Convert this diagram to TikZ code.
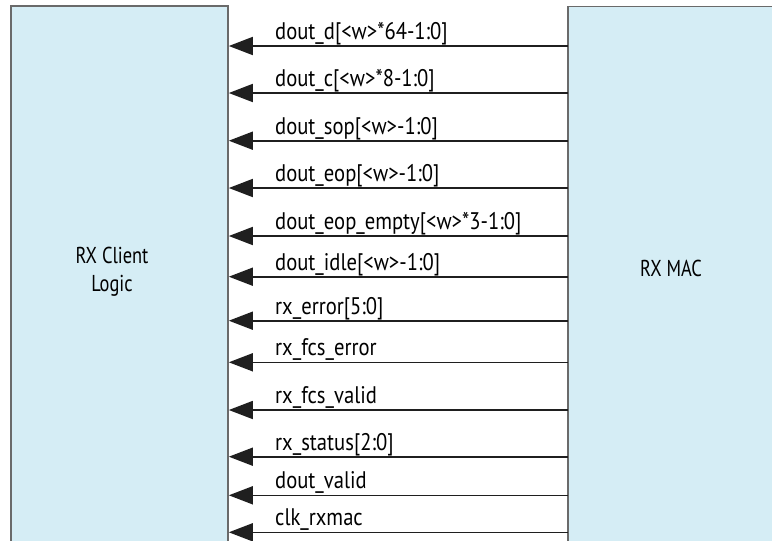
\documentclass[tikz,border=0pt]{standalone}
\usepackage{fontspec}
\setmainfont{PT Sans}
\newfontfamily\sigfont[FakeStretch=0.86]{PT Sans}
\newfontfamily\blkfont[FakeStretch=0.8]{PT Sans}
\usetikzlibrary{arrows.meta}
\definecolor{boxfill}{HTML}{D5EDF5}
\definecolor{boxline}{HTML}{6A6A6A}
\tikzset{
  block/.style={draw=boxline, fill=boxfill, line width=1.6pt, inner sep=0pt, minimum width=#1},
  sig/.style={line width=1.6pt, draw=black!88, -{Triangle[length=24pt,width=18pt]}},
  siglabel/.style={anchor=base west, inner sep=0pt, font=\sigfont\fontsize{24pt}{28pt}\selectfont},
  blocklabel/.style={align=center, inner sep=0pt, font=\blkfont\fontsize{23pt}{28pt}\selectfont}
}
\begin{document}
\begin{tikzpicture}[x=1pt,y=-1pt]
\useasboundingbox (0,0) rectangle (772,541);
\clip (0,0) rectangle (772,541);
\path[block] (11,6) rectangle (228,570);
\node[block=217pt, minimum height=564pt, draw=none, fill=none] (client) at (119.5,288) {};
\path[block] (568,6.5) rectangle (800,570);
\node[minimum width=232pt, minimum height=564pt, inner sep=0pt] (mac) at (684,288) {};
\node[blocklabel] (clientlbl) at (112,272) {RX Client\\Logic};
\node[blocklabel] (maclbl) at (671,268) {RX MAC};
\foreach \y/\t/\n in {46/{dout\_d[<w>*64-1:0]}/s1,
                      93/{dout\_c[<w>*8-1:0]}/s2,
                      140.7/{dout\_sop[<w>-1:0]}/s3,
                      188/{dout\_eop[<w>-1:0]}/s4,
                      236/{dout\_eop\_empty[<w>*3-1:0]}/s5,
                      276.7/{dout\_idle[<w>-1:0]}/s6,
                      320.7/{rx\_error[5:0]}/s7,
                      362.3/{rx\_fcs\_error}/s8,
                      410/{rx\_fcs\_valid}/s9,
                      456.7/{rx\_status[2:0]}/s10,
                      495.3/{dout\_valid}/s11,
                      532.3/{clk\_rxmac}/s12}{
  \coordinate (\n) at (568,\y);
  \draw[sig] (\n) -- (client.east |- \n);
  \node[siglabel] (\n lbl) at (275,\y-6.7) {\t};
}
\end{tikzpicture}
\end{document}
